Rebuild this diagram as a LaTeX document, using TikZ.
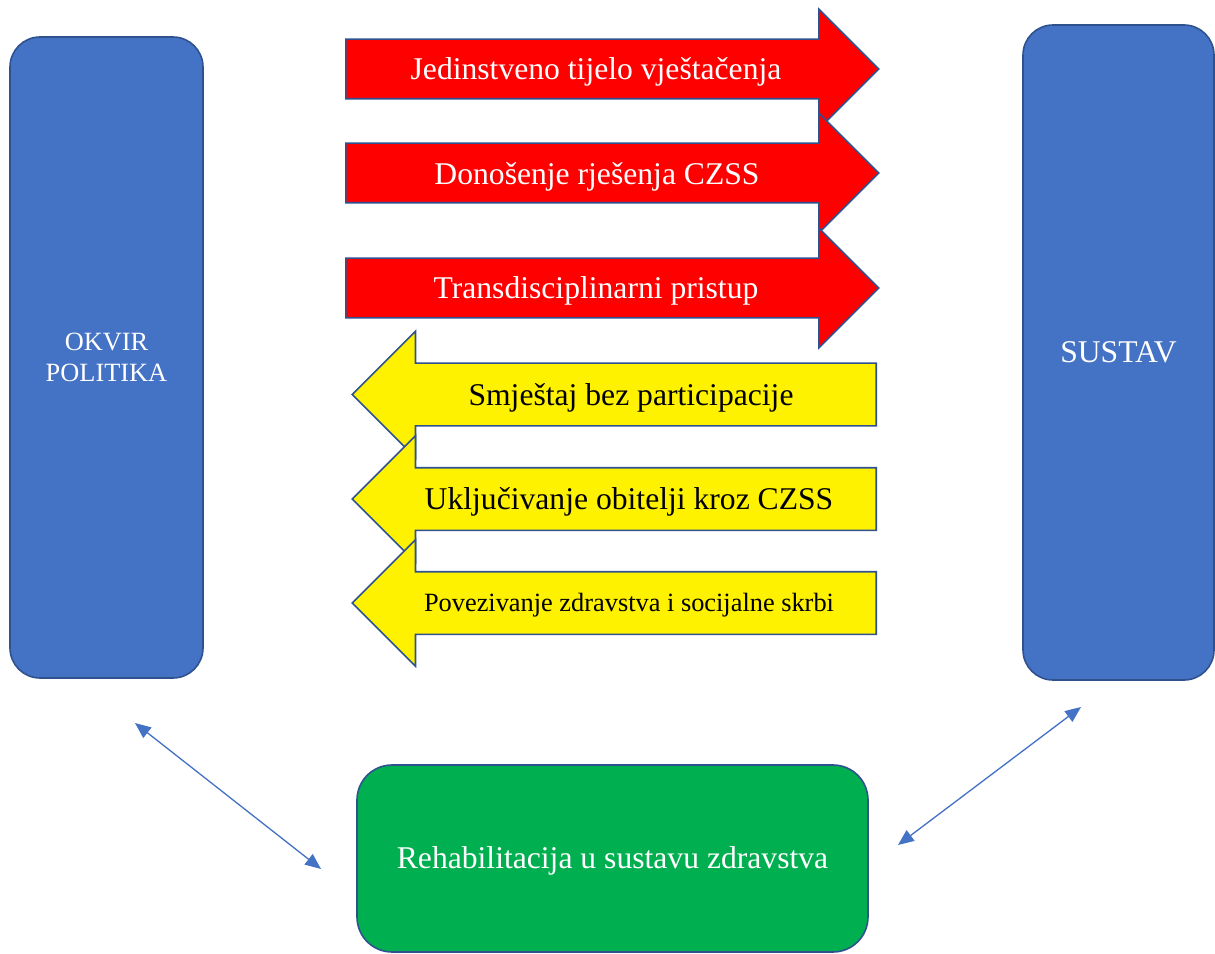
\documentclass[tikz,border=0pt]{standalone}
\usepackage{fontspec}
\setmainfont{Liberation Serif}
\usetikzlibrary{shapes.arrows,arrows.meta}
\definecolor{boxblue}{HTML}{4472C4}
\definecolor{edgeblue}{HTML}{2F528F}
\definecolor{boxgreen}{HTML}{00B050}

\begin{document}
\begin{tikzpicture}[x=0.2mm, y=-0.2mm]
    \tikzstyle{pil} = [shape=rectangle, rounded corners=6mm, draw=edgeblue, fill=boxblue, line width=0.9pt, text=white, align=center, inner sep=0pt]
    \tikzstyle{reh} = [pil, fill=boxgreen, rounded corners=7mm, text height=11.9pt, text depth=0pt]
    \tikzstyle{fwd} = [shape=single arrow, single arrow tip angle=90, single arrow head indent=0mm, single arrow head extend=6mm, inner xsep=0mm, inner ysep=5.8mm, minimum height=106.6mm, draw=edgeblue, line width=0.9pt, fill=red, anchor=tail]
    \tikzstyle{bwd} = [fwd, fill=yellow, shape border rotate=180, inner ysep=6.1mm, single arrow head extend=6.4mm, minimum height=104.8mm]
    \tikzstyle{lbl} = [inner sep=0pt, text height=11.9pt, text depth=0pt, font=\fontsize{18}{21}\selectfont]
    \tikzstyle{lnk} = [draw=boxblue, line width=0.75pt, {Triangle[width=7.5pt,length=9pt]}-{Triangle[width=7.5pt,length=9pt]}]
    \useasboundingbox (0,0) rectangle (1215,954);

    \node (okvir) [pil, minimum width=38.6mm, minimum height=128.2mm, font=\fontsize{15}{17.6}\selectfont] at (106.5,357.5) {OKVIR\\POLITIKA};
    \node (sustav) [pil, minimum width=38.2mm, minimum height=131mm, font=\fontsize{18}{21}\selectfont] at (1118.5,352.5) {SUSTAV};
    \node (rehab) [reh, minimum width=102.2mm, minimum height=37.4mm, font=\fontsize{18}{21}\selectfont] at (612.5,858.5) {Rehabilitacija u sustavu zdravstva};

    % crvene strelice (desno)
    \node (r1) [fwd] at (345,69) {};
    \node (r2) [fwd] at (345,173) {};
    \node (r3) [fwd] at (345,288) {};
    \node (r1t) [lbl, text=white] at (596,69)  {Jedinstveno tijelo vještačenja};
    \node (r2t) [lbl, text=white] at (597,174) {Donošenje rješenja CZSS};
    \node (r3t) [lbl, text=white] at (596,288) {Transdisciplinarni pristup};

    % zute strelice (lijevo)
    \node (y1) [bwd] at (877,394.5) {};
    \node (y2) [bwd] at (877,499) {};
    \node (y3) [bwd] at (877,603) {};
    \node (y1t) [lbl] at (631,395.5) {Smještaj bez participacije};
    \node (y2t) [lbl] at (629,499.5) {Uključivanje obitelji kroz CZSS};
    \node (y3t) [lbl, text height=9.9pt, font=\fontsize{15}{18}\selectfont] at (629,602.5) {Povezivanje zdravstva i socijalne skrbi};

    \coordinate (la) at (135,723);
    \coordinate (lb) at (321,869);
    \coordinate (ra) at (1081,707);
    \coordinate (rb) at (898,845);
    \draw [lnk] (la) -- (lb);
    \draw [lnk] (ra) -- (rb);
\end{tikzpicture}
\end{document}
